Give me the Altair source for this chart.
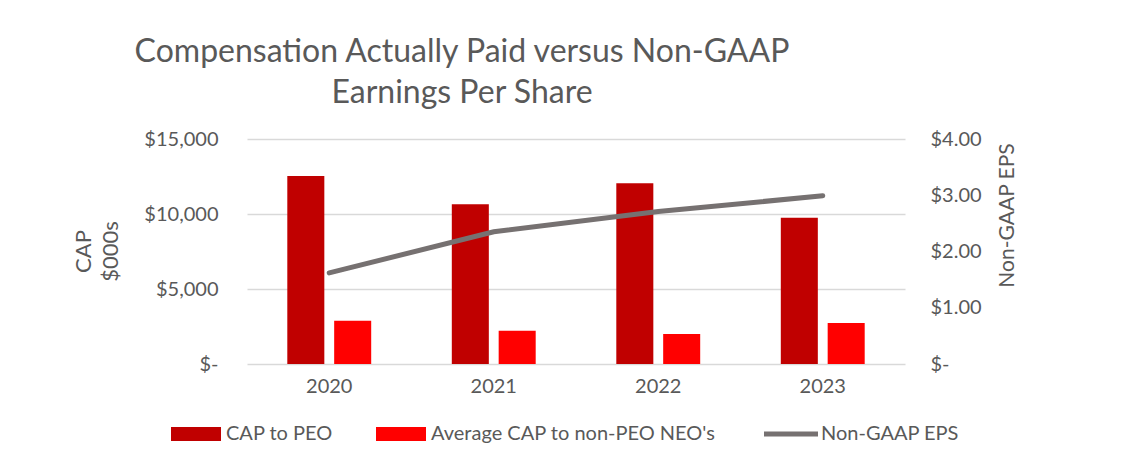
import altair as alt
import pandas as pd

years = ["2020", "2021", "2022", "2023"]
cap_peo = [12530, 10650, 12050, 9750]
cap_neo = [2890, 2220, 2000, 2730]
eps = [1.62, 2.35, 2.71, 2.99]

series = ["CAP to PEO", "Average CAP to  non-PEO NEO's", "Non-GAAP EPS"]
colors = ["#C00000", "#FF0000", "#767171"]
shapes = ["M-1,-0.28H1V0.28H-1Z", "M-1,-0.28H1V0.28H-1Z", "M-1.08,-0.1H1.08V0.1H-1.08Z"]

bar_df = pd.DataFrame({
    "year": years * 2,
    "series": [series[0]] * 4 + [series[1]] * 4,
    "value": cap_peo + cap_neo,
})
eps_df = pd.DataFrame({"year": years, "eps": eps, "series": [series[2]] * 4})
leg_df = pd.DataFrame({"series": series})

FONT = "Lato"
GREY = "#595959"

x_enc = alt.X(
    "year:N",
    sort=years,
    scale=alt.Scale(paddingInner=0.49, paddingOuter=0.245),
    axis=alt.Axis(title=None, labelFont=FONT, labelFontSize=20, labelColor=GREY,
                  domain=False, ticks=False, labelPadding=12, labelAngle=0),
)

color_scale = alt.Scale(domain=series, range=colors)
legend = alt.Legend(
    title=None, orient="none", direction="horizontal",
    legendX=-76, legendY=270,
    labelFont=FONT, labelFontSize=20, labelColor=GREY,
    symbolSize=2500, symbolOpacity=1, symbolStrokeWidth=0,
    columnPadding=43, labelOffset=5, labelLimit=400,
)

bars = alt.Chart(bar_df).mark_bar().encode(
    x=x_enc,
    xOffset=alt.XOffset("series:N", sort=series[:2],
                        scale=alt.Scale(paddingInner=0.21, paddingOuter=0)),
    y=alt.Y("value:Q",
            scale=alt.Scale(domain=[0, 15000]),
            axis=alt.Axis(
                values=[0, 5000, 10000, 15000],
                labelExpr="datum.value == 0 ? '$-' : '$' + format(datum.value, ',.0f')",
                labelFont=FONT, labelFontSize=20, labelColor=GREY, labelPadding=29,
                domain=False, ticks=False, grid=True, gridColor="#D9D9D9", gridWidth=1.3,
                title=["CAP", "$000s"], titleFont=FONT, titleFontSize=22,
                titleFontWeight="normal", titleColor=GREY, titleAngle=270,
                titleX=-174, titleY=112, titleBaseline="top", titleAlign="center",
                titleLineHeight=27,
            )),
    color=alt.Color("series:N", scale=color_scale, legend=legend),
)

line = alt.Chart(eps_df).mark_line(strokeWidth=5, strokeCap="round").encode(
    x=alt.X("year:N", sort=years, bandPosition=0.5),
    y=alt.Y("eps:Q",
            scale=alt.Scale(domain=[0, 4]),
            axis=alt.Axis(
                orient="right", values=[0, 1, 2, 3, 4],
                labelExpr="datum.value == 0 ? '$-' : '$' + format(datum.value, '.2f')",
                labelFont=FONT, labelFontSize=20, labelColor=GREY, labelPadding=25,
                domain=False, ticks=False, grid=False,
                title="Non-GAAP EPS", titleFont=FONT, titleFontSize=21,
                titleFontWeight="normal", titleColor=GREY, titleAngle=270,
                titleX=102, titleY=76, titleBaseline="middle", titleAlign="center",
            )),
    color=alt.Color("series:N", scale=color_scale, legend=legend),
)

legend_pts = alt.Chart(leg_df).mark_point(filled=True, opacity=0).encode(
    color=alt.Color("series:N", scale=color_scale, legend=legend),
    shape=alt.Shape("series:N", scale=alt.Scale(domain=series, range=shapes), legend=legend),
)

chart = alt.layer(bars, line, legend_pts).resolve_scale(y="independent").properties(
    width=658,
    height=225,
    background="white",
    autosize=alt.AutoSizeParams(type="none"),
    padding={"left": 239, "top": 131, "right": 200, "bottom": 93},
    title=alt.TitleParams(
        text=["Compensation Actually Paid versus Non-GAAP", "Earnings Per Share"],
        font=FONT, fontSize=32, fontWeight="normal", color=GREY,
        anchor="middle", frame="group", dx=-114, offset=19, lineHeight=41,
    ),
).configure_view(stroke="transparent", strokeWidth=0)

chart.save("out.html", embed_options={"renderer": "svg", "actions": False})
